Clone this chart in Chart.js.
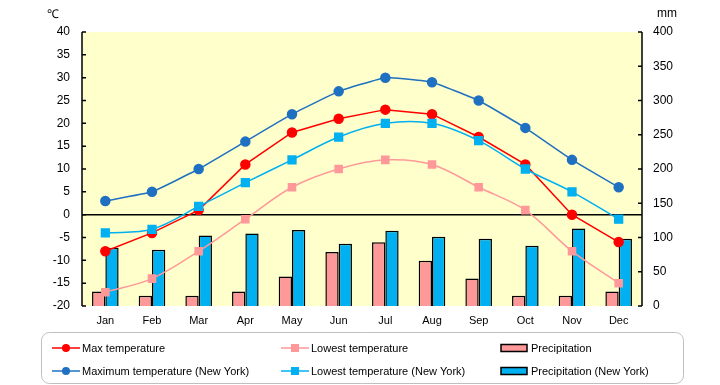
<!DOCTYPE html>
<html>
<head>
<meta charset="utf-8">
<script src="https://cdn.jsdelivr.net/npm/chart.js@4.4.0/dist/chart.umd.min.js"></script>
<style>
    body { margin: 0; background: #fff; }
    #wrap { position: relative; width: 720px; height: 385px; }
</style>
</head>
<body>
<div id="wrap"><canvas id="climateChart" width="720" height="385"></canvas></div>
<script>
const months = ['Jan', 'Feb', 'Mar', 'Apr', 'May', 'Jun', 'Jul', 'Aug', 'Sep', 'Oct', 'Nov', 'Dec'];
const maxTemp = [-8, -4, 1, 11, 18, 21, 23, 22, 17, 11, 0, -6];
const lowTemp = [-17, -14, -8, -1, 6, 10, 12, 11, 6, 1, -8, -15];
const precip = [21, 15, 15, 21, 43, 79, 93, 66, 40, 15, 15, 21];
const maxTempNY = [3, 5, 10, 16, 22, 27, 30, 29, 25, 19, 12, 6];
const lowTempNY = [-4, -3.2, 1.8, 7, 12, 17, 20, 20, 16.2, 10, 5, -1];
const precipNY = [85, 82, 103, 106, 111, 91, 110, 101, 98, 88, 113, 98];
const tempTicks = [-20, -15, -10, -5, 0, 5, 10, 15, 20, 25, 30, 35, 40];
const precipTicks = [0, 50, 100, 150, 200, 250, 300, 350, 400];

const FONT = "'Liberation Sans', Arial, sans-serif";

// plot background, zero line, axis lines with inward ticks, units, legend
const decorPlugin = {
    id: 'decor',
    beforeDraw(chart) {
        let ctx = chart.ctx;
        let a = chart.chartArea;
        ctx.save();
        ctx.fillStyle = '#FFFFCC';
        ctx.fillRect(a.left, a.top, a.right - a.left, a.bottom - a.top);
        ctx.restore();
    },
    beforeDatasetsDraw(chart) {
        let ctx = chart.ctx;
        let a = chart.chartArea;
        let y0 = chart.scales.y.getPixelForValue(0);
        ctx.save();
        ctx.strokeStyle = '#000';
        ctx.lineWidth = 1.5;
        ctx.beginPath();
        ctx.moveTo(a.left, y0);
        ctx.lineTo(a.right, y0);
        ctx.stroke();
        ctx.restore();
    },
    afterDraw(chart) {
        let ctx = chart.ctx;
        let a = chart.chartArea;
        let yL = chart.scales.y;
        let yR = chart.scales.y2;
        ctx.save();
        ctx.strokeStyle = '#000';
        ctx.lineWidth = 1.5;
        ctx.beginPath();
        ctx.moveTo(a.left, a.top);
        ctx.lineTo(a.left, a.bottom);
        ctx.moveTo(a.right, a.top);
        ctx.lineTo(a.right, a.bottom);
        tempTicks.forEach(t => {
            let py = yL.getPixelForValue(t);
            ctx.moveTo(a.left, py);
            ctx.lineTo(a.left + 4, py);
        });
        precipTicks.forEach(t => {
            let py = yR.getPixelForValue(t);
            ctx.moveTo(a.right, py);
            ctx.lineTo(a.right - 4, py);
        });
        ctx.stroke();

        ctx.fillStyle = '#000';
        ctx.font = '12px ' + FONT;
        ctx.textBaseline = 'middle';
        ctx.textAlign = 'left';
        ctx.fillText('℃', 47, 15);
        ctx.fillText('mm', 657, 14);

        // legend: 2 rows x 3 columns
        ctx.strokeStyle = '#BFBFBF';
        ctx.lineWidth = 1;
        ctx.beginPath();
        ctx.roundRect(41.5, 332.5, 642, 51, 8);
        ctx.stroke();

        let cols = [52, 281, 501];
        let rows = [348, 371];
        ctx.font = '11px ' + FONT;
        chart.data.datasets.forEach((d, i) => {
            let x = cols[i % 3];
            let y = rows[Math.floor(i / 3)];
            if (d.type === 'bar') {
                ctx.fillStyle = d.backgroundColor;
                ctx.fillRect(x, y - 3.5, 26, 7);
                ctx.strokeStyle = '#000';
                ctx.lineWidth = 1.5;
                ctx.strokeRect(x, y - 3.5, 26, 7);
            } else {
                ctx.strokeStyle = d.borderColor;
                ctx.lineWidth = 1.5;
                ctx.beginPath();
                ctx.moveTo(x, y);
                ctx.lineTo(x + 28, y);
                ctx.stroke();
                ctx.fillStyle = d.pointBackgroundColor;
                if (d.pointStyle === 'rect') {
                    ctx.fillRect(x + 10, y - 4, 8, 8);
                } else {
                    ctx.beginPath();
                    ctx.arc(x + 14, y, 4, 0, Math.PI * 2);
                    ctx.fill();
                }
            }
            ctx.fillStyle = '#000';
            ctx.fillText(d.label, x + 30, y + 1);
        });
        ctx.restore();
    }
};

function lineSet(label, data, color, style, radius, tension, order) {
    return {
        type: 'line',
        label: label,
        data: data,
        yAxisID: 'y',
        borderColor: color,
        backgroundColor: color,
        pointBackgroundColor: color,
        pointBorderColor: color,
        pointStyle: style,
        pointRadius: radius,
        borderWidth: 1.5,
        tension: tension,
        order: order
    };
}

function barSet(label, data, color) {
    return {
        type: 'bar',
        label: label,
        data: data,
        yAxisID: 'y2',
        backgroundColor: color,
        borderColor: '#000',
        borderWidth: 1.5,
        categoryPercentage: 0.57,
        barPercentage: 1,
        order: 10
    };
}

let ctx = document.getElementById('climateChart').getContext('2d');
new Chart(ctx, {
    data: {
        labels: months,
        datasets: [
            lineSet('Max temperature', maxTemp, '#FF0000', 'circle', 4.5, 0, 3),
            lineSet('Lowest temperature', lowTemp, '#FF9999', 'rect', 5, 0.35, 4),
            barSet('Precipitation', precip, '#FF9999'),
            lineSet('Maximum temperature (New York)', maxTempNY, '#1F70C1', 'circle', 4.5, 0.1, 2),
            lineSet('Lowest temperature (New York)', lowTempNY, '#00B0F0', 'rect', 5.5, 0.35, 1),
            barSet('Precipitation (New York)', precipNY, '#00B0F0')
        ]
    },
    options: {
        responsive: false,
        animation: false,
        layout: { padding: { top: 32, left: 0, right: 0, bottom: 0 } },
        plugins: {
            legend: { display: false },
            tooltip: { enabled: false }
        },
        scales: {
            x: {
                grid: { display: false, drawTicks: false },
                border: { display: false },
                ticks: { color: '#000', font: { family: FONT, size: 11 }, padding: 8 },
                afterFit(scale) { scale.height = 79; }
            },
            y: {
                position: 'left',
                min: -20,
                max: 40,
                afterBuildTicks(scale) { scale.ticks = tempTicks.map(v => ({ value: v })); },
                grid: { display: false, drawTicks: false },
                border: { display: false },
                ticks: { color: '#000', font: { family: FONT, size: 12 }, padding: 12 },
                afterFit(scale) { scale.width = 82; }
            },
            y2: {
                position: 'right',
                min: 0,
                max: 400,
                afterBuildTicks(scale) { scale.ticks = precipTicks.map(v => ({ value: v })); },
                grid: { display: false, drawTicks: false },
                border: { display: false },
                ticks: { color: '#000', font: { family: FONT, size: 12 }, padding: 11 },
                afterFit(scale) { scale.width = 78; }
            }
        }
    },
    plugins: [decorPlugin]
});
</script>
</body>
</html>
